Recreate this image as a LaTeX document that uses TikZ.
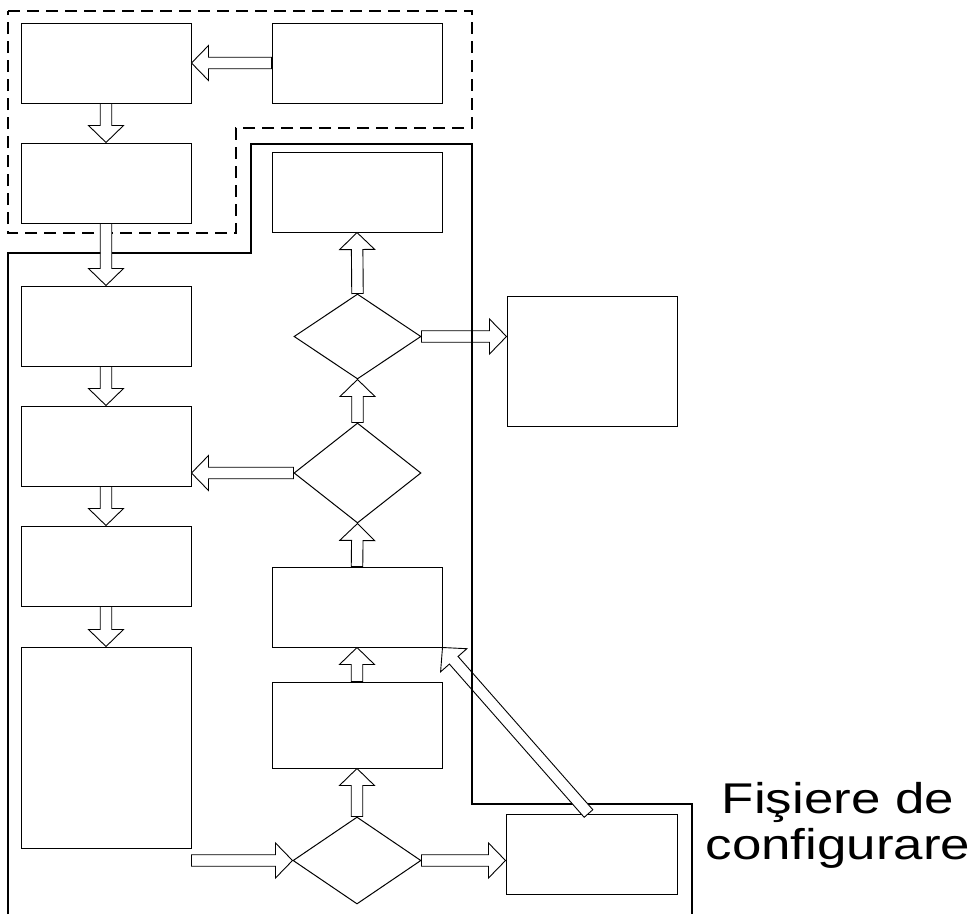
\documentclass[tikz,border=0pt]{standalone}
\usepackage{fontspec}
\newfontfamily\labelfont{Liberation Sans}[FakeStretch=1.23]
\usetikzlibrary{calc,shapes.geometric}
\begin{document}
\begin{tikzpicture}[x=1pt,y=-1pt,
  box/.style={draw, line width=1pt, minimum width=170pt, minimum height=80pt, inner sep=0pt, fill=white},
  dia/.style={draw, diamond, line width=1pt, inner sep=0pt, fill=white},
  region/.style={line width=2.2pt},
  dregion/.style={line width=2.3pt, dash pattern=on 12pt off 7pt},
  blk/.style={draw, fill=white, line width=0.9pt, to path={
    let \p1=(\tikztostart), \p2=(\tikztotarget),
        \n1={atan2(\y2-\y1,\x2-\x1)}, \n2={veclen(\x2-\x1,\y2-\y1)}
    in {[shift={(\p1)}, rotate=\n1]
      (0pt,-5.75pt) -- (\n2-17pt,-5.75pt) -- (\n2-17pt,-17.5pt) -- (\n2,0pt)
      -- (\n2-17pt,17.5pt) -- (\n2-17pt,5.75pt) -- (0pt,5.75pt) -- cycle}}}]
\useasboundingbox (0,0) rectangle (975,914);

% regions
\draw[dregion] (8,11) -- (472,11) -- (472,128) -- (236,128) -- (236,233) -- (8,233) -- cycle;
\draw[region] (8,914) -- (8,253) -- (251,253) -- (251,144) -- (472,144) -- (472,804) -- (692,804) -- (692,914);

% left column
\node[box] (A1) at (106,63) {};
\node[box] (A2) at (357,63) {};
\node[box] (A3) at (106,183) {};
\node[box] (L1) at (106,326) {};
\node[box] (L2) at (106,446) {};
\node[box] (L3) at (106,566) {};
\node[box, minimum height=201pt] (L4) at (106,747.5) {};

% middle column
\node[box] (B1) at (357,192) {};
\node[dia, minimum width=127pt, minimum height=85pt] (D1) at (357.5,336.5) {};
\node[dia, minimum width=127pt, minimum height=100pt] (D2) at (357.5,473) {};
\node[box] (B2) at (357,607) {};
\node[box, minimum height=86pt] (B3) at (357,725) {};
\node[dia, minimum width=128pt, minimum height=87pt] (D3) at (357,860.5) {};

% right column
\node[box, minimum height=130pt] (R1) at (592,361) {};
\node[box, minimum width=171pt] (R2) at (591.5,854) {};

% arrows
\draw[blk] (A2.west) to (A1.east);
\draw[blk] (A1.south) to (A3.north);
\draw[blk] (A3.south) to (L1.north);
\draw[blk] (L1.south) to (L2.north);
\draw[blk] (L2.south) to (L3.north);
\draw[blk] (L3.south) to (L4.north);
\draw[blk] (L4.east |- D3.west) to (D3.west);
\draw[blk] (D3.east) to (R2.west |- D3.east);
\draw[blk] (D3.north) to (B3.south);
\draw[blk] (B3.north) to (B2.south);
\draw[blk] (B2.north) to (D2.south);
\draw[blk] (D2.north) to (D1.south);
\draw[blk] (D1.north) to (B1.south);
\draw[blk] (D2.west) to (L2.east |- D2.west);
\draw[blk] (D1.east) to (R1.west |- D1.east);
\draw[blk] ([xshift=-3pt]R2.north) to (B2.south east);

% region line on top of crossing arrows
\draw[region] (472,144) -- (472,804);

% label
\node[font=\labelfont\fontsize{43}{46}\selectfont, align=center, anchor=north, inner sep=0pt] (cfg) at (838,782) {Fişiere de\\configurare};
\end{tikzpicture}
\end{document}
